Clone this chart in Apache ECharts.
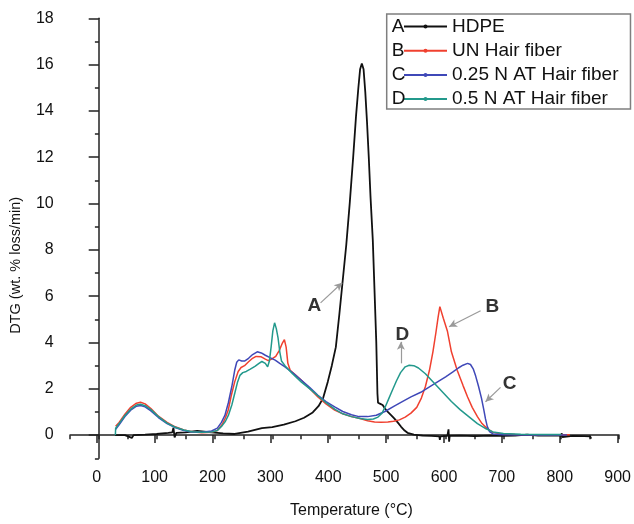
<!DOCTYPE html>
<html>
<head>
<meta charset="utf-8">
<script src="https://cdn.jsdelivr.net/npm/echarts@6/dist/echarts.min.js"></script>
<style>
  html, body { margin: 0; padding: 0; background: #fff; }
  #main { width: 634px; height: 524px; }
</style>
</head>
<body>
<div id="main"></div>
<script>
// series names and the letters used in the legend and on the plot
let names = ['HDPE', 'UN Hair fiber', '0.25 N AT Hair fiber', '0.5 N AT Hair fiber'];
let letters = ['A', 'B', 'C', 'D'];

// A - HDPE
let tempA = [28, 45, 57, 58, 60, 80, 100, 120, 127, 129, 131, 134, 150, 170, 195, 215, 235, 258, 282, 300, 320, 340, 355, 370, 380, 388, 396, 403, 410, 416, 422, 428, 434, 440, 445, 449, 452, 455, 458, 461, 464, 467, 470, 474, 477, 480, 482, 483, 487, 491, 495, 500, 506, 511, 517, 523, 529, 534, 545, 560, 575, 589, 590, 591, 603, 605, 606, 607, 625, 650, 680, 700, 720, 741, 742, 760, 780, 800, 801, 802, 820, 840, 850, 852];
let dtgA = [0.0, 0.0, -0.12, -0.1, 0.0, 0.02, 0.05, 0.1, 0.12, 0.32, -0.1, 0.1, 0.12, 0.18, 0.12, 0.08, 0.05, 0.15, 0.3, 0.35, 0.45, 0.6, 0.75, 0.98, 1.25, 1.6, 2.3, 3.0, 3.8, 5.2, 6.7, 8.2, 10.0, 12.0, 13.8, 15.0, 15.8, 16.05, 15.8, 14.8, 13.5, 12.0, 10.3, 8.4, 6.2, 4.0, 1.8, 1.4, 1.35, 1.3, 1.15, 1.0, 0.85, 0.72, 0.55, 0.36, 0.2, 0.1, 0.02, -0.02, -0.03, -0.05, -0.2, -0.05, -0.03, 0.25, -0.28, -0.03, -0.02, -0.04, -0.02, -0.03, -0.02, 0.02, -0.06, -0.02, -0.02, -0.02, 0.08, -0.08, -0.03, -0.04, -0.05, -0.15];

// B - UN Hair fiber
let tempB = [29, 35, 45, 55, 65, 72, 80, 90, 103, 118, 132, 147, 161, 178, 195, 205, 213, 219, 224, 229, 235, 241, 246, 252, 259, 265, 272, 281, 288, 293, 300, 306, 312, 317, 321, 324, 327, 331, 340, 350, 365, 379, 393, 408, 422, 437, 452, 465, 477, 488, 500, 510, 520, 530, 540, 550, 558, 565, 572, 578, 583, 587, 590, 592, 596, 603, 610, 620, 630, 638, 646, 655, 663, 672, 682, 695, 720, 760, 800, 815];
let dtgB = [0.38, 0.55, 0.9, 1.2, 1.38, 1.42, 1.35, 1.15, 0.82, 0.55, 0.36, 0.22, 0.15, 0.1, 0.12, 0.2, 0.45, 0.75, 1.1, 1.7, 2.3, 2.75, 2.92, 3.0, 3.17, 3.3, 3.4, 3.38, 3.28, 3.22, 3.3, 3.4, 3.65, 3.95, 4.12, 3.8, 3.1, 2.8, 2.6, 2.38, 2.0, 1.65, 1.35, 1.08, 0.92, 0.8, 0.72, 0.62, 0.57, 0.56, 0.57, 0.6, 0.66, 0.78, 0.95, 1.2, 1.6, 2.1, 2.8, 3.6, 4.4, 5.1, 5.55, 5.5, 5.05, 4.5, 3.6, 2.8, 2.15, 1.65, 1.2, 0.8, 0.5, 0.28, 0.12, 0.06, 0.03, 0.02, 0.02, 0.02];

// C - 0.25 N AT Hair fiber
let tempC = [29, 35, 45, 55, 65, 72, 80, 90, 103, 118, 132, 147, 161, 178, 195, 205, 212, 218, 224, 230, 235, 238.5, 242, 247, 252, 259, 266, 274, 281, 288, 296, 305, 313, 322, 335, 350, 365, 379, 393, 408, 422, 437, 450, 465, 480, 495, 511, 525, 540, 557, 572, 586, 600, 612, 622, 630, 638, 643, 648, 652, 657, 662, 666, 669, 672, 676, 682, 700, 740, 780, 810];
let dtgC = [0.25, 0.45, 0.8, 1.08, 1.25, 1.28, 1.22, 1.05, 0.76, 0.5, 0.33, 0.2, 0.14, 0.12, 0.18, 0.3, 0.55, 0.85, 1.4, 2.1, 2.8, 3.15, 3.25, 3.2, 3.2, 3.32, 3.48, 3.6, 3.55, 3.45, 3.35, 3.24, 3.1, 2.95, 2.7, 2.38, 2.05, 1.72, 1.45, 1.22, 1.02, 0.88, 0.8, 0.8, 0.86, 1.02, 1.25, 1.45, 1.65, 1.85, 2.08, 2.3, 2.52, 2.72, 2.9, 3.02, 3.1, 3.05, 2.85, 2.55, 2.1, 1.6, 1.1, 0.7, 0.38, 0.15, 0.05, 0.02, 0.01, 0.01, 0.01];

// D - 0.5 N AT Hair fiber
let tempD = [28.5, 29, 35, 45, 55, 65, 72, 80, 90, 103, 118, 132, 147, 161, 178, 195, 205, 213, 219, 224, 230, 235, 240, 244, 249, 255, 262, 270, 277, 282, 288, 292, 295, 298, 301, 304, 307, 310, 313, 316, 322, 335, 350, 365, 379, 393, 408, 422, 437, 452, 465, 475, 483, 490, 496, 502, 508, 515, 522, 530, 537, 545, 553, 565, 580, 595, 610, 625, 640, 655, 668, 682, 700, 730, 770, 800];
let dtgD = [0.0, 0.3, 0.5, 0.85, 1.12, 1.3, 1.33, 1.27, 1.1, 0.8, 0.52, 0.34, 0.22, 0.15, 0.12, 0.14, 0.2, 0.4, 0.6, 0.85, 1.3, 1.8, 2.3, 2.58, 2.7, 2.75, 2.85, 2.97, 3.1, 3.18, 3.1, 2.95, 3.2, 3.8, 4.5, 4.85, 4.6, 4.2, 3.6, 3.2, 3.0, 2.65, 2.3, 2.0, 1.7, 1.4, 1.12, 0.92, 0.8, 0.72, 0.68, 0.7, 0.78, 0.95, 1.25, 1.6, 1.95, 2.35, 2.7, 2.95, 3.02, 3.0, 2.9, 2.65, 2.25, 1.85, 1.45, 1.1, 0.8, 0.5, 0.3, 0.14, 0.07, 0.04, 0.03, 0.03];

// letter positions [T, DTG] and arrow start / end
let labelPos = [[373, 5.59], [681, 5.54], [710.6, 2.23], [525, 4.35]];
let arrowFrom = [[383.6, 5.71], [660.5, 5.37], [695, 2.06], [522.6, 3.1]];
let arrowTo = [[421, 6.58], [605.9, 4.68], [669, 1.44], [522.6, 4.03]];

let colors = ['#111111', '#f0402f', '#3f48b8', '#23998c'];
let font = 'Liberation Sans, Arial, sans-serif';

let zip = (t, v) => t.map((x, i) => [x, v[i]]);
let temps = [tempA, tempB, tempC, tempD];
let dtgs = [dtgA, dtgB, dtgC, dtgD];

let chart = echarts.init(document.getElementById('main'));

let series = names.map((n, i) => ({
  name: n,
  type: 'line',
  xAxisIndex: 0,
  yAxisIndex: 0,
  data: zip(temps[i], dtgs[i]),
  symbol: 'circle',
  showSymbol: false,
  symbolSize: 3,
  color: colors[i],
  lineStyle: { width: i === 0 ? 1.8 : 1.5, color: colors[i] },
  animation: false,
  markLine: {
    silent: true,
    symbol: ['none', 'arrow'],
    symbolSize: [6, 8],
    label: { show: false },
    lineStyle: { color: '#9a9a9a', width: 1.2, type: 'solid' },
    data: [[{ coord: arrowFrom[i] }, { coord: arrowTo[i] }]]
  },
  markPoint: {
    silent: true,
    symbol: 'circle',
    symbolSize: 0,
    label: {
      show: true,
      position: 'inside',
      formatter: letters[i],
      color: '#333',
      fontFamily: font,
      fontWeight: 'bold',
      fontSize: 19
    },
    data: [{ coord: labelPos[i] }]
  }
}));

chart.setOption({
  backgroundColor: '#fff',
  animation: false,
  grid: [
    { left: 67.7, right: 15, top: 18.3, bottom: 65.7 },
    { left: 96.7, right: 15, top: 18.3, bottom: 89 }
  ],
  legend: [{
    data: names,
    orient: 'vertical',
    left: 386.7,
    top: 14,
    padding: [3, 12, 0.5, 16.3],
    itemWidth: 43,
    itemHeight: 5,
    itemGap: 5.2,
    borderColor: '#7f7f7f',
    borderWidth: 1.5,
    textStyle: { fontFamily: font, fontSize: 19, lineHeight: 19, color: '#111' }
  }, {
    data: names,
    orient: 'vertical',
    left: 386.7,
    top: 14,
    padding: [3, 0, 0.5, 0],
    itemWidth: 0,
    itemHeight: 0,
    itemGap: 5.2,
    icon: 'none',
    formatter: name => letters[names.indexOf(name)],
    textStyle: { fontFamily: font, fontSize: 19, lineHeight: 19, color: '#111' }
  }],
  xAxis: [{
    gridIndex: 0,
    type: 'value',
    min: -50,
    max: 900,
    interval: 50,
    name: 'Temperature (°C)',
    nameLocation: 'middle',
    nameGap: 44,
    nameTextStyle: { fontFamily: font, fontSize: 16, color: '#111', padding: [0, 0, 0, 14] },
    axisLine: { lineStyle: { color: '#222', width: 1.5 } },
    axisTick: { length: 4, lineStyle: { color: '#222', width: 1.5 } },
    axisLabel: { show: false },
    splitLine: { show: false }
  }, {
    gridIndex: 1,
    type: 'value',
    min: 0,
    max: 900,
    interval: 100,
    offset: 23.2,
    axisLine: { show: false },
    axisTick: { length: 8, lineStyle: { color: '#222', width: 1.5 } },
    axisLabel: { fontFamily: font, fontSize: 16, color: '#111', margin: 11 },
    splitLine: { show: false }
  }],
  yAxis: [{
    gridIndex: 0,
    type: 'value',
    min: -1,
    max: 18,
    interval: 1,
    name: 'DTG (wt. % loss/min)',
    nameLocation: 'middle',
    nameGap: 47,
    nameTextStyle: { fontFamily: font, fontSize: 14.5, color: '#111', padding: [0, 54, 0, 0] },
    axisLine: { show: true, lineStyle: { color: '#222', width: 1.5 } },
    axisTick: { show: true, length: 4, lineStyle: { color: '#222', width: 1.5 } },
    axisLabel: { show: false },
    splitLine: { show: false }
  }, {
    gridIndex: 1,
    type: 'value',
    min: 0,
    max: 18,
    interval: 2,
    offset: 29,
    axisLine: { show: false },
    axisTick: { show: true, length: 8, lineStyle: { color: '#222', width: 1.5 } },
    axisLabel: { fontFamily: font, fontSize: 16, color: '#111', margin: 14 },
    splitLine: { show: false }
  }],
  series: series
});
</script>
</body>
</html>
